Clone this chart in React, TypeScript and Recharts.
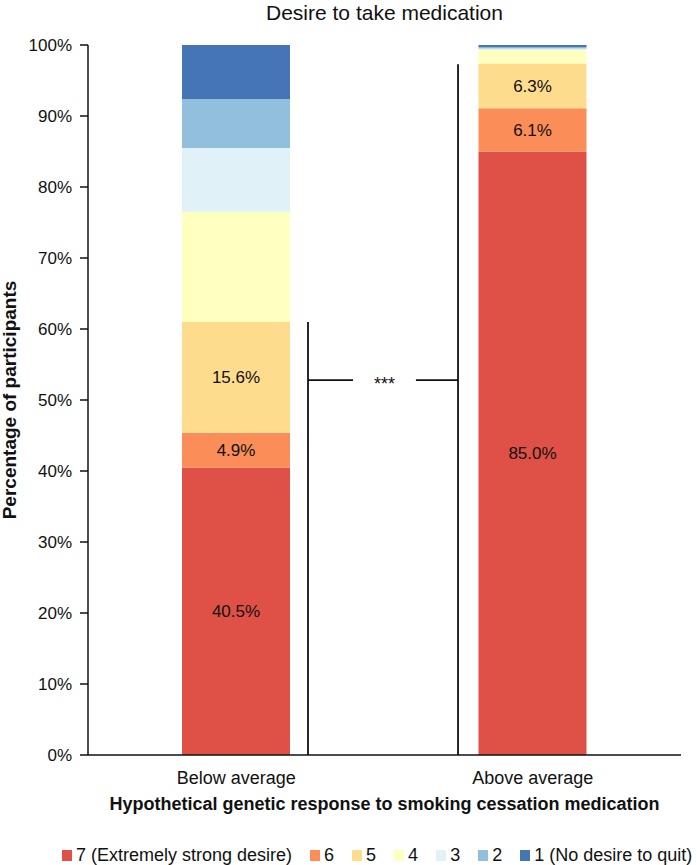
import React from 'react';
import { BarChart, Bar, XAxis, YAxis, ReferenceLine, LabelList, Legend, Label } from 'recharts';

const categories = ['Below average', 'Above average'];
const seriesKeys = ['s7', 's6', 's5', 's4', 's3', 's2', 's1'];
const seriesNames = ['7 (Extremely strong desire)', '6', '5', '4', '3', '2', '1 (No desire to quit)'];
const seriesColors = ['#DF5047', '#FA8D58', '#FEDC8E', '#FFFFC0', '#E0F2F8', '#92BFDB', '#4575B4'];
const s7 = [40.5, 85.0];
const s6 = [4.9, 6.1];
const s5 = [15.6, 6.3];
const s4 = [15.5, 1.9];
const s3 = [9.0, 0.2];
const s2 = [6.9, 0.2];
const s1 = [7.6, 0.3];
const labeledKeys = ['s7', 's6', 's5'];
const yTicks = [0, 10, 20, 30, 40, 50, 60, 70, 80, 90, 100];

const title = 'Desire to take medication';
const xTitle = 'Hypothetical genetic response to smoking cessation medication';
const yTitle = 'Percentage of participants';
const significance = '***';
// significance bracket, in category units (0..2, band centers at 0.5 and 1.5) and percent
const bracketLeftX = 0.742;
const bracketRightX = 1.248;
const bracketGapLeft = 0.894;
const bracketGapRight = 1.106;
const bracketY = 52.8;
const bracketLeftTop = 61.0;
const bracketRightTop = 97.3;

const seriesValues: Record<string, number[]> = { s7, s6, s5, s4, s3, s2, s1 };
const data = categories.map((c, i) => {
  const row: Record<string, any> = { category: c };
  seriesKeys.forEach((k) => {
    row[k] = seriesValues[k][i];
  });
  return row;
});

const FONT = '"Liberation Sans", Arial, sans-serif';
const AXIS = '#111';

const LegendContent = () => (
  <div
    style={{
      display: 'flex',
      flexDirection: 'row',
      alignItems: 'center',
      paddingLeft: 62,
      fontFamily: FONT,
      fontSize: 18,
      color: '#111',
      lineHeight: '22px',
      whiteSpace: 'nowrap',
    }}
  >
    {seriesNames.map((n, i) => (
      <div key={n} style={{ display: 'flex', alignItems: 'center', marginRight: 18 }}>
        <span style={{ display: 'inline-block', width: 10, height: 11, background: seriesColors[i], marginRight: 4 }} />
        <span>{n}</span>
      </div>
    ))}
  </div>
);

export default function App() {
  return (
    <div style={{ position: 'absolute', left: 0, top: 0, width: 697, height: 865, fontFamily: FONT, background: '#fff' }}>
      <div
        style={{
          position: 'absolute',
          top: 1,
          left: 88,
          width: 593,
          textAlign: 'center',
          fontSize: 21,
          lineHeight: '24px',
          color: '#111',
          zIndex: 2,
        }}
      >
        {title}
      </div>
      <BarChart
        width={697}
        height={865}
        data={data}
        margin={{ top: 45, right: 16, left: 0, bottom: 50 }}
        style={{ fontFamily: FONT }}
      >
        <XAxis
          dataKey="category"
          xAxisId={0}
          height={60}
          tickLine={false}
          tickSize={0}
          tickMargin={16}
          axisLine={{ stroke: AXIS, strokeWidth: 1.5 }}
          tick={{ fill: '#111', fontSize: 18 }}
        >
          <Label value={xTitle} position="insideBottom" offset={5} style={{ fontWeight: 'bold', fontSize: 18, fill: '#111' }} />
        </XAxis>
        <XAxis
          xAxisId="num"
          type="number"
          dataKey={(d: any) => categories.indexOf(d.category) + 0.5}
          domain={[0, 2]}
          hide
          allowDataOverflow
        />
        <YAxis
          width={88}
          domain={[0, 100]}
          ticks={yTicks}
          interval={0}
          tickFormatter={(v: number) => `${v}%`}
          tickSize={8}
          tickMargin={8}
          axisLine={{ stroke: AXIS, strokeWidth: 1.5 }}
          tickLine={{ stroke: AXIS, strokeWidth: 1.5 }}
          tick={{ fill: '#111', fontSize: 17 }}
        >
          <Label
            value={yTitle}
            angle={-90}
            position="insideLeft"
            offset={9}
            style={{ textAnchor: 'middle', fontWeight: 'bold', fontSize: 19, fill: '#111' }}
          />
        </YAxis>
        {seriesKeys.map((k, i) => (
          <Bar key={k} dataKey={k} name={seriesNames[i]} stackId="a" fill={seriesColors[i]} barSize={108} isAnimationActive={false}>
            {labeledKeys.includes(k) && (
              <LabelList
                dataKey={k}
                position="center"
                formatter={(v: any) => `${Number(v).toFixed(1)}%`}
                style={{ fill: '#111', fontSize: 17 }}
              />
            )}
          </Bar>
        ))}
        <ReferenceLine xAxisId="num" segment={[{ x: bracketLeftX, y: 0 }, { x: bracketLeftX, y: bracketLeftTop }]} stroke={AXIS} strokeWidth={1.8} />
        <ReferenceLine xAxisId="num" segment={[{ x: bracketRightX, y: 0 }, { x: bracketRightX, y: bracketRightTop }]} stroke={AXIS} strokeWidth={1.8} />
        <ReferenceLine xAxisId="num" segment={[{ x: bracketLeftX, y: bracketY }, { x: bracketGapLeft, y: bracketY }]} stroke={AXIS} strokeWidth={1.8} />
        <ReferenceLine xAxisId="num" segment={[{ x: bracketGapRight, y: bracketY }, { x: bracketRightX, y: bracketY }]} stroke={AXIS} strokeWidth={1.8} />
        <ReferenceLine
          xAxisId="num"
          segment={[{ x: bracketGapLeft, y: bracketY }, { x: bracketGapRight, y: bracketY }]}
          stroke="none"
          label={{ value: significance, position: 'center', dy: 3, fill: '#111', fontSize: 18 }}
        />
        <Legend
          layout="horizontal"
          verticalAlign="middle"
          align="center"
          content={() => <LegendContent />}
          wrapperStyle={{ position: 'absolute', top: 844, left: 0, width: 697 }}
        />
      </BarChart>
    </div>
  );
}
